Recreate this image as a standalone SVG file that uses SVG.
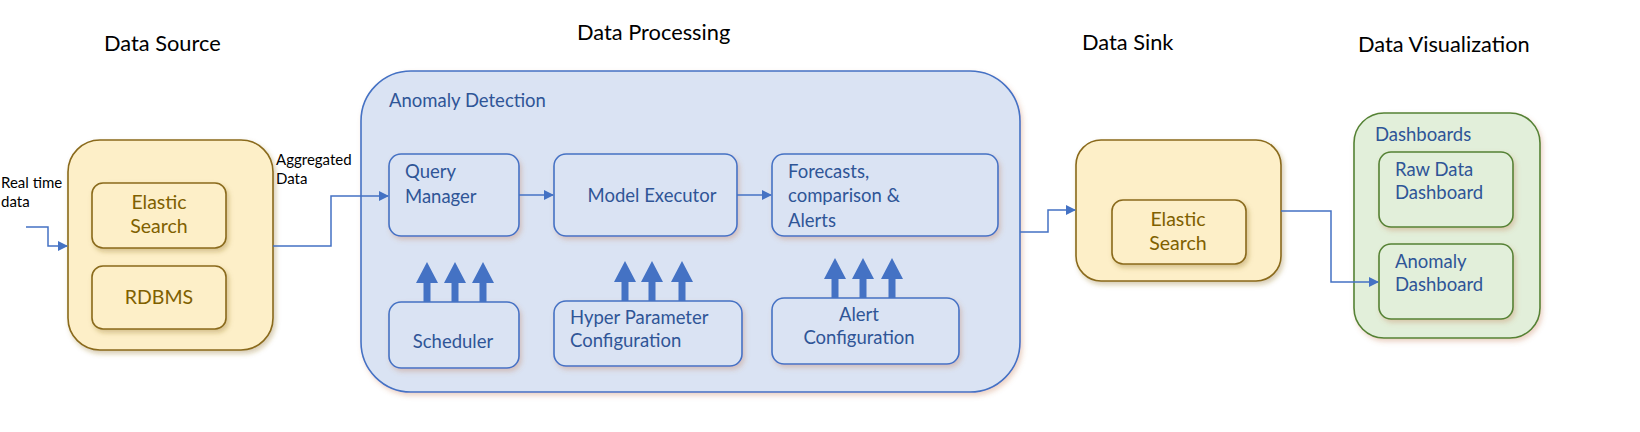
<svg xmlns="http://www.w3.org/2000/svg" width="1640" height="432" viewBox="0 0 1640 432">
<style>
text{font-family:Lato,"Open Sans","Liberation Sans",sans-serif}
.h{font-size:21.8px;fill:#000}
.lbl{font-size:15px;fill:#000}
.y{fill:#fdefc8;stroke:#8a6a1c;stroke-width:1.6}
.yt{font-size:19.5px;fill:#7f6000;text-anchor:middle}
.b{fill:#dae3f3;stroke:#4472c4;stroke-width:1.6}
.bt{font-size:18.5px;fill:#2f5597}
.g{fill:#e2efda;stroke:#548235;stroke-width:1.6}
.c{fill:none;stroke:#4472c4;stroke-width:1.5}
.ba{fill:#4472c4}
</style>
<defs>
<filter id="sy" x="-10%" y="-10%" width="125%" height="125%"><feDropShadow dx="2" dy="3" stdDeviation="2.5" flood-color="#8a6a1c" flood-opacity="0.35"/></filter>
<filter id="sb" x="-10%" y="-10%" width="125%" height="125%"><feDropShadow dx="2" dy="3" stdDeviation="2.5" flood-color="#c07040" flood-opacity="0.3"/></filter>
<marker id="ah" markerWidth="10" markerHeight="10" refX="9" refY="5" orient="auto" markerUnits="userSpaceOnUse"><path d="M0,0 L10,5 L0,10 Z" fill="#4472c4"/></marker>
<path id="barrow" d="M0,0 L11,21 L3.5,21 L3.5,40 L-3.5,40 L-3.5,21 L-11,21 Z"/>
</defs>
<rect width="1640" height="432" fill="#fff"/>

<g id="headings">
<text class="h" x="104" y="51">Data Source</text>
<text class="h" x="577" y="40">Data Processing</text>
<text class="h" x="1082" y="50">Data Sink</text>
<text class="h" x="1358" y="52">Data Visualization</text>
</g>

<g id="data-source">
<rect class="y" x="68" y="140" width="205" height="210" rx="32" filter="url(#sy)"/>
<g id="ds-elastic"><rect class="y" x="92" y="183" width="134" height="65" rx="11" filter="url(#sy)"/>
<text class="yt" x="159" y="209">Elastic</text><text class="yt" x="159" y="233">Search</text></g>
<g id="ds-rdbms"><rect class="y" x="92" y="266" width="134" height="63" rx="11" filter="url(#sy)"/>
<text class="yt" x="159" y="304">RDBMS</text></g>
</g>

<g id="anomaly-detection">
<rect class="b" x="361" y="71" width="659" height="321" rx="50" filter="url(#sb)"/>
<text class="bt" x="389" y="107">Anomaly Detection</text>
<g id="query-manager"><rect class="b" x="389" y="154" width="130" height="82" rx="12" filter="url(#sb)"/>
<text class="bt" x="405" y="178">Query</text><text class="bt" x="405" y="203">Manager</text></g>
<g id="model-executor"><rect class="b" x="554" y="154" width="183" height="82" rx="12" filter="url(#sb)"/>
<text class="bt" x="652" y="202" text-anchor="middle">Model Executor</text></g>
<g id="forecasts"><rect class="b" x="772" y="154" width="226" height="82" rx="12" filter="url(#sb)"/>
<text class="bt" x="788" y="178">Forecasts,</text><text class="bt" x="788" y="202">comparison &amp;</text><text class="bt" x="788" y="227">Alerts</text></g>
<g id="scheduler"><rect class="b" x="389" y="302" width="130" height="66" rx="12" filter="url(#sb)"/>
<text class="bt" x="453" y="348" text-anchor="middle">Scheduler</text></g>
<g id="hyper-param"><rect class="b" x="554" y="301" width="188" height="65" rx="12" filter="url(#sb)"/>
<text class="bt" x="570" y="324">Hyper Parameter</text><text class="bt" x="570" y="347">Configuration</text></g>
<g id="alert-config"><rect class="b" x="772" y="298" width="187" height="66" rx="12" filter="url(#sb)"/>
<text class="bt" x="859" y="321" text-anchor="middle">Alert</text><text class="bt" x="859" y="344" text-anchor="middle">Configuration</text></g>
</g>

<g id="data-sink">
<rect class="y" x="1076" y="140" width="205" height="141" rx="25" filter="url(#sy)"/>
<g id="sink-elastic"><rect class="y" x="1112" y="200" width="134" height="64" rx="11" filter="url(#sy)"/>
<text class="yt" x="1178" y="226">Elastic</text><text class="yt" x="1178" y="250">Search</text></g>
</g>

<g id="dashboards">
<rect class="g" x="1354" y="113" width="186" height="225" rx="30" filter="url(#sb)"/>
<text class="bt" x="1375" y="141">Dashboards</text>
<g id="raw-dashboard"><rect class="g" x="1379" y="152" width="134" height="75" rx="12" filter="url(#sb)"/>
<text class="bt" x="1395" y="176">Raw Data</text><text class="bt" x="1395" y="199">Dashboard</text></g>
<g id="anomaly-dashboard"><rect class="g" x="1379" y="244" width="134" height="75" rx="12" filter="url(#sb)"/>
<text class="bt" x="1395" y="268">Anomaly</text><text class="bt" x="1395" y="291">Dashboard</text></g>
</g>

<g id="labels">
<text class="lbl" x="1" y="188">Real time</text><text class="lbl" x="1" y="207">data</text>
<text class="lbl" x="276" y="165">Aggregated</text><text class="lbl" x="276" y="184">Data</text>
</g>

<g id="connectors">
<path class="c" d="M26,227 H48 V246 H67" marker-end="url(#ah)"/>
<path class="c" d="M273,246 H331 V196 H388" marker-end="url(#ah)"/>
<path class="c" d="M519,195 H553" marker-end="url(#ah)"/>
<path class="c" d="M737,195 H771" marker-end="url(#ah)"/>
<path class="c" d="M1020,232 H1048 V210 H1075" marker-end="url(#ah)"/>
<path class="c" d="M1281,211 H1331 V282 H1378" marker-end="url(#ah)"/>
<g class="ba">
<use href="#barrow" x="427" y="262"/><use href="#barrow" x="455" y="262"/><use href="#barrow" x="483" y="262"/>
<use href="#barrow" x="625" y="261"/><use href="#barrow" x="652" y="261"/><use href="#barrow" x="682" y="261"/>
<use href="#barrow" x="835" y="258"/><use href="#barrow" x="863" y="258"/><use href="#barrow" x="892" y="258"/>
</g>
</g>
</svg>
